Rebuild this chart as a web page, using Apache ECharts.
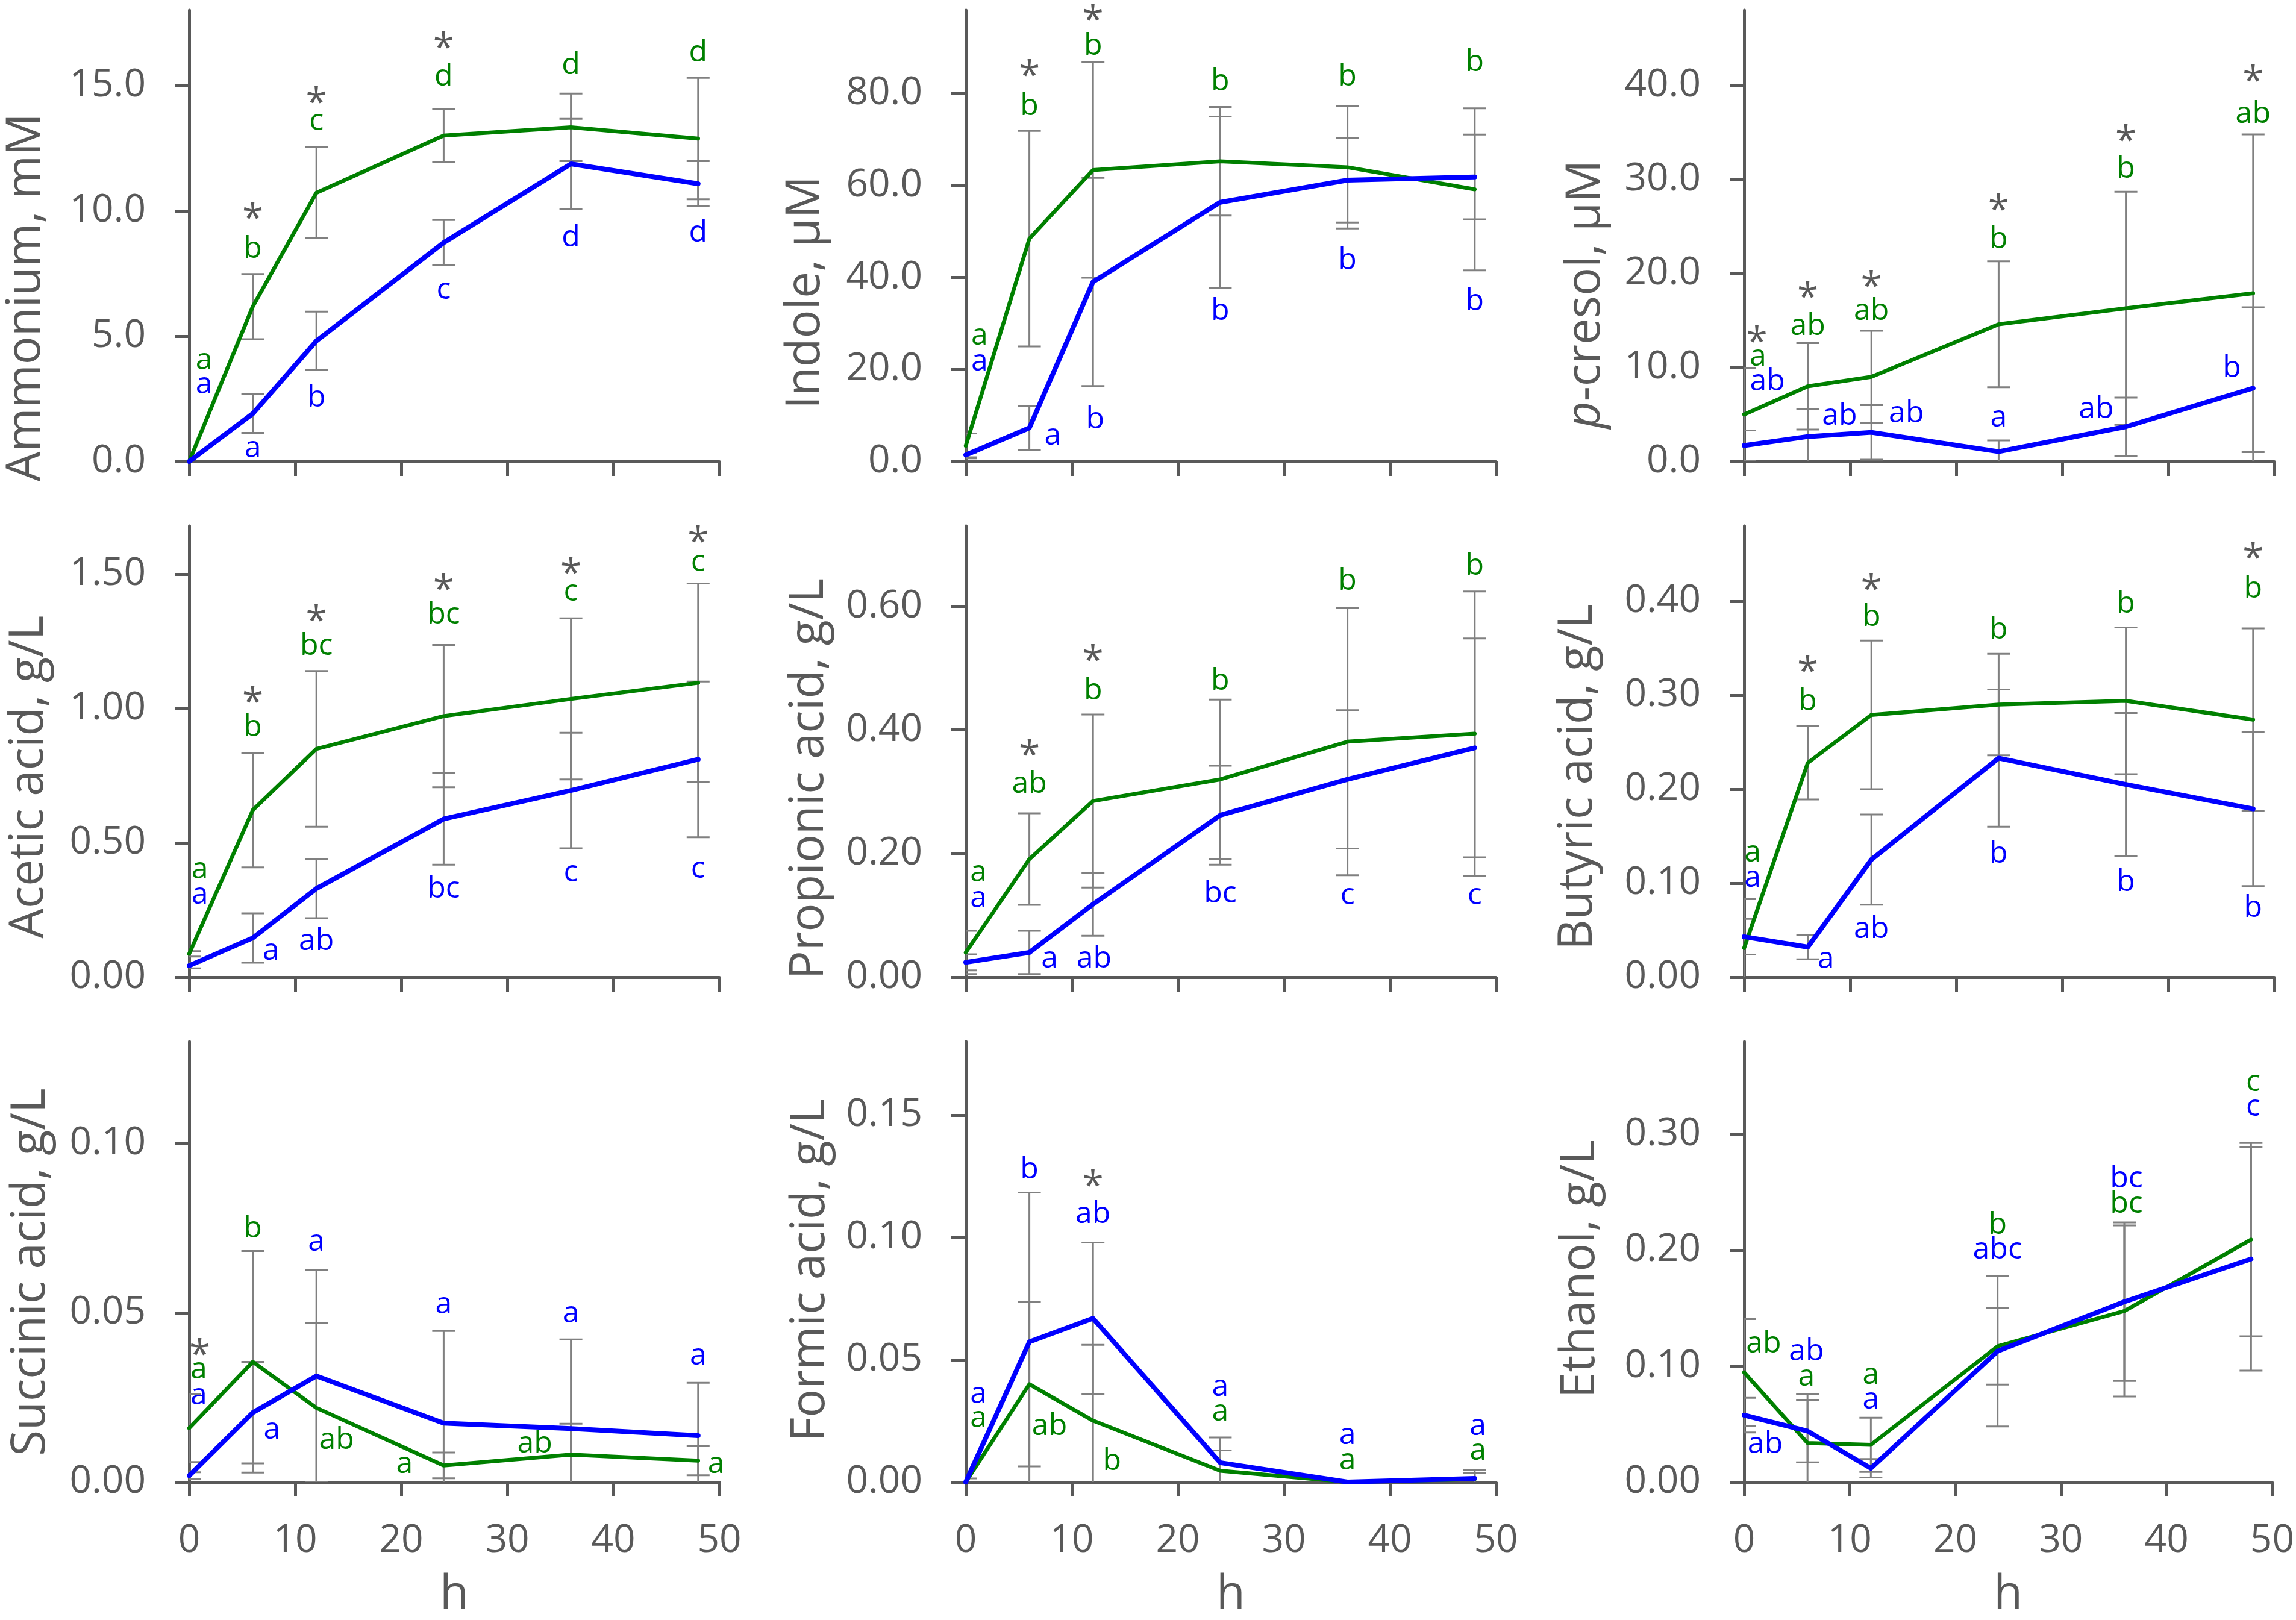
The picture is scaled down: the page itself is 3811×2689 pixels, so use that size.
<!DOCTYPE html>
<html lang="en">
  <head>
    <meta charset="UTF-8" />
    <title>Fermentation time courses</title>
    <script src="https://cdn.jsdelivr.net/npm/echarts@6/dist/echarts.min.js"></script>
    <style>
      html,
      body {
        margin: 0;
        padding: 0;
        background: #ffffff;
      }
      #chart {
        width: 3811px;
        height: 2689px;
      }
    </style>
  </head>
  <body>
    <div id="chart"></div>
    <script type="text/javascript">
      // sampling times, h
      const hours = [0, 6, 12, 24, 36, 48];
      const xTicks = [0, 10, 20, 30, 40, 50];

      // mean and SD per panel: G = green series, B = blue series
      const ammoniumG = [0, 6.18, 10.72, 13.0, 13.33, 12.88];
      const ammoniumGsd = [0, 1.3, 1.81, 1.06, 1.35, 2.42];
      const ammoniumB = [0, 1.91, 4.81, 8.73, 11.87, 11.08];
      const ammoniumBsd = [0, 0.77, 1.17, 0.9, 1.8, 0.9];
      const ammoniumTicks = [0, 5, 10, 15];

      const indoleG = [3.4, 48.4, 63.3, 65.2, 63.9, 59.1];
      const indoleGsd = [2.7, 23.4, 23.4, 11.8, 13.3, 17.6];
      const indoleB = [1.4, 7.3, 39.0, 56.3, 61.1, 61.8];
      const indoleBsd = [0.5, 4.8, 22.6, 18.6, 9.2, 9.2];
      const indoleTicks = [0, 20, 40, 60, 80];

      const cresolG = [5.0, 8.0, 9.0, 14.6, 16.3, 17.9];
      const cresolGsd = [4.9, 4.6, 4.9, 6.7, 12.4, 16.9];
      const cresolB = [1.7, 2.65, 3.1, 1.05, 3.7, 7.8];
      const cresolBsd = [1.6, 2.9, 2.9, 1.2, 3.1, 8.6];
      const cresolTicks = [0, 10, 20, 30, 40];

      const aceticG = [0.087, 0.622, 0.85, 0.972, 1.036, 1.096];
      const aceticGsd = [0.01, 0.213, 0.29, 0.265, 0.3, 0.37];
      const aceticB = [0.043, 0.146, 0.33, 0.589, 0.695, 0.811];
      const aceticBsd = [0.01, 0.092, 0.11, 0.17, 0.215, 0.29];
      const aceticTicks = [0, 0.5, 1.0, 1.5];

      const propionicG = [0.04, 0.191, 0.285, 0.32, 0.381, 0.394];
      const propionicGsd = [0.035, 0.074, 0.14, 0.129, 0.216, 0.23];
      const propionicB = [0.024, 0.04, 0.118, 0.262, 0.32, 0.371];
      const propionicBsd = [0.013, 0.035, 0.051, 0.08, 0.112, 0.177];
      const propionicTicks = [0, 0.2, 0.4, 0.6];

      const butyricG = [0.031, 0.228, 0.279, 0.29, 0.294, 0.274];
      const butyricGsd = [0.052, 0.039, 0.079, 0.054, 0.078, 0.097];
      const butyricB = [0.043, 0.032, 0.125, 0.233, 0.205, 0.179];
      const butyricBsd = [0.019, 0.013, 0.048, 0.073, 0.076, 0.082];
      const butyricTicks = [0, 0.1, 0.2, 0.3, 0.4];

      const succinicG = [0.0159, 0.0355, 0.0219, 0.0049, 0.0081, 0.0063];
      const succinicGsd = [0.01, 0.0327, 0.025, 0.0038, 0.0091, 0.0043];
      const succinicB = [0.0019, 0.0205, 0.0313, 0.0174, 0.0158, 0.0137];
      const succinicBsd = [0.001, 0.015, 0.0314, 0.0272, 0.0263, 0.0156];
      const succinicTicks = [0, 0.05, 0.1];

      const formicG = [0, 0.04, 0.0251, 0.0046, 0, 0.0012];
      const formicGsd = [0.0015, 0.0336, 0.031, 0.0083, 0, 0.0037];
      const formicB = [0, 0.0573, 0.0669, 0.0079, 0, 0.0015];
      const formicBsd = [0, 0.061, 0.031, 0.0103, 0, 0.0021];
      const formicTicks = [0, 0.05, 0.1, 0.15];

      const ethanolG = [0.0946, 0.0337, 0.0321, 0.1171, 0.1476, 0.2092];
      const ethanolGsd = [0.046, 0.042, 0.0234, 0.033, 0.0738, 0.0834];
      const ethanolB = [0.0577, 0.044, 0.0119, 0.1129, 0.1556, 0.1925];
      const ethanolBsd = [0.015, 0.027, 0.008, 0.065, 0.0684, 0.0963];
      const ethanolTicks = [0, 0.1, 0.2, 0.3];

      // significance letters: [h, value where the text sits, text, g|b|s]
      const ammoniumNotes = [
        [1.4, 4.03, "a", "g"], [1.4, 3.05, "a", "b"],
        [6, 8.47, "b", "g"], [6, 9.97, "*", "s"], [6, 0.5, "a", "b"],
        [12, 13.57, "c", "g"], [12, 14.6, "*", "s"], [12, 2.52, "b", "b"],
        [24, 15.33, "d", "g"], [24, 16.77, "*", "s"], [24, 6.84, "c", "b"],
        [36, 15.8, "d", "g"], [36, 8.93, "d", "b"],
        [48, 16.3, "d", "g"], [48, 9.12, "d", "b"],
      ];
      const indoleNotes = [
        [1.3, 27.3, "a", "g"], [1.3, 21.6, "a", "b"],
        [6, 77.1, "b", "g"], [6, 85.3, "*", "s"], [8.2, 5.55, "a", "b"],
        [12, 90.2, "b", "g"], [12, 97.4, "*", "s"], [12.2, 9.1, "b", "b"],
        [24, 82.4, "b", "g"], [24, 32.6, "b", "b"],
        [36, 83.5, "b", "g"], [36, 43.6, "b", "b"],
        [48, 86.7, "b", "g"], [48, 34.7, "b", "b"],
      ];
      const cresolNotes = [
        [1.3, 11.1, "a", "g"], [1.2, 13.5, "*", "s"], [2.2, 8.5, "ab", "b"],
        [6, 14.4, "ab", "g"], [6, 18.2, "*", "s"], [9.0, 4.8, "ab", "b"],
        [12, 16.0, "ab", "g"], [12, 19.4, "*", "s"], [15.3, 5.1, "ab", "b"],
        [24, 23.6, "b", "g"], [24, 27.5, "*", "s"], [24, 4.6, "a", "b"],
        [36, 31.1, "b", "g"], [36, 34.9, "*", "s"], [33.2, 5.5, "ab", "b"],
        [48, 36.9, "ab", "g"], [48, 41.2, "*", "s"], [46, 9.9, "b", "b"],
      ];
      const aceticNotes = [
        [1.0, 0.4, "a", "g"], [1.0, 0.306, "a", "b"],
        [6, 0.929, "b", "g"], [6, 1.051, "*", "s"], [7.7, 0.097, "a", "b"],
        [12, 1.233, "bc", "g"], [12, 1.354, "*", "s"], [12, 0.134, "ab", "b"],
        [24, 1.348, "bc", "g"], [24, 1.47, "*", "s"], [24, 0.328, "bc", "b"],
        [36, 1.433, "c", "g"], [36, 1.53, "*", "s"], [36, 0.389, "c", "b"],
        [48, 1.543, "c", "g"], [48, 1.646, "*", "s"], [48, 0.401, "c", "b"],
      ];
      const propionicNotes = [
        [1.2, 0.169, "a", "g"], [1.2, 0.127, "a", "b"],
        [6, 0.3125, "ab", "g"], [6, 0.371, "*", "s"], [7.9, 0.029, "a", "b"],
        [12, 0.463, "b", "g"], [12, 0.524, "*", "s"], [12.1, 0.029, "ab", "b"],
        [24, 0.479, "b", "g"], [24, 0.135, "bc", "b"],
        [36, 0.641, "b", "g"], [36, 0.132, "c", "b"],
        [48, 0.665, "b", "g"], [48, 0.132, "c", "b"],
      ];
      const butyricNotes = [
        [0.8, 0.132, "a", "g"], [0.8, 0.105, "a", "b"],
        [6, 0.293, "b", "g"], [6, 0.333, "*", "s"], [7.7, 0.019, "a", "b"],
        [12, 0.383, "b", "g"], [12, 0.42, "*", "s"], [12, 0.051, "ab", "b"],
        [24, 0.369, "b", "g"], [24, 0.131, "b", "b"],
        [36, 0.397, "b", "g"], [36, 0.101, "b", "b"],
        [48, 0.413, "b", "g"], [48, 0.453, "*", "s"], [48, 0.073, "b", "b"],
      ];
      const succinicNotes = [
        [0.9, 0.0331, "a", "g"], [1.0, 0.0397, "*", "s"], [0.9, 0.0254, "a", "b"],
        [6, 0.0748, "b", "g"], [7.8, 0.0154, "a", "b"],
        [13.9, 0.0123, "ab", "g"], [12, 0.0709, "a", "b"],
        [20.3, 0.0052, "a", "g"], [24, 0.0523, "a", "b"],
        [32.6, 0.0112, "ab", "g"], [36, 0.0496, "a", "b"],
        [49.7, 0.0052, "a", "g"], [48, 0.0372, "a", "b"],
      ];
      const formicNotes = [
        [1.2, 0.0357, "a", "b"], [1.2, 0.0258, "a", "g"],
        [6, 0.1277, "b", "b"], [7.9, 0.0228, "ab", "g"],
        [12, 0.1094, "ab", "b"], [12, 0.1239, "*", "s"], [13.8, 0.0084, "b", "g"],
        [24, 0.0388, "a", "b"], [24, 0.0286, "a", "g"],
        [36, 0.019, "a", "b"], [36, 0.0088, "a", "g"],
        [48.3, 0.0228, "a", "b"], [48.3, 0.0126, "a", "g"],
      ];
      const ethanolNotes = [
        [1.85, 0.1193, "ab", "g"], [2.0, 0.0321, "ab", "b"],
        [5.9, 0.1123, "ab", "b"], [5.9, 0.0905, "a", "g"],
        [12, 0.0924, "a", "g"], [12, 0.0706, "a", "b"],
        [24, 0.2214, "b", "g"], [24, 0.2005, "abc", "b"],
        [36.2, 0.2615, "bc", "b"], [36.2, 0.24, "bc", "g"],
        [48.2, 0.3449, "c", "g"], [48.2, 0.3234, "c", "b"],
      ];

      const panels = [
        { title: "Ammonium, mM", max: 18, ticks: ammoniumTicks, dec: 1, g: ammoniumG, gsd: ammoniumGsd, b: ammoniumB, bsd: ammoniumBsd, notes: ammoniumNotes },
        { title: "Indole, µM", max: 98, ticks: indoleTicks, dec: 1, g: indoleG, gsd: indoleGsd, b: indoleB, bsd: indoleBsd, notes: indoleNotes },
        { title: "{i|p}-cresol, µM", max: 48, ticks: cresolTicks, dec: 1, g: cresolG, gsd: cresolGsd, b: cresolB, bsd: cresolBsd, notes: cresolNotes },
        { title: "Acetic acid, g/L", max: 1.68, ticks: aceticTicks, dec: 2, g: aceticG, gsd: aceticGsd, b: aceticB, bsd: aceticBsd, notes: aceticNotes },
        { title: "Propionic acid, g/L", max: 0.73, ticks: propionicTicks, dec: 2, g: propionicG, gsd: propionicGsd, b: propionicB, bsd: propionicBsd, notes: propionicNotes },
        { title: "Butyric acid, g/L", max: 0.48, ticks: butyricTicks, dec: 2, g: butyricG, gsd: butyricGsd, b: butyricB, bsd: butyricBsd, notes: butyricNotes },
        { title: "Succinic acid, g/L", max: 0.13, ticks: succinicTicks, dec: 2, g: succinicG, gsd: succinicGsd, b: succinicB, bsd: succinicBsd, notes: succinicNotes },
        { title: "Formic acid, g/L", max: 0.18, ticks: formicTicks, dec: 2, g: formicG, gsd: formicGsd, b: formicB, bsd: formicBsd, notes: formicNotes },
        { title: "Ethanol, g/L", max: 0.38, ticks: ethanolTicks, dec: 2, g: ethanolG, gsd: ethanolGsd, b: ethanolB, bsd: ethanolBsd, notes: ethanolNotes },
      ];

      const font = "'Open Sans', 'Noto Sans', sans-serif";
      const axisGrey = "#595959";
      const barGrey = "#808080";
      const green = "#008000";
      const blue = "#0000ff";
      const noteColor = { g: green, b: blue, s: axisGrey };

      // plot area layout (px)
      const colLeft = [314, 1603, 2895];
      const rowTop = [17, 873, 1729];
      const plotW = 880;
      const plotH = 749;
      // y title distance from axis and shift below middle
      const titleDist = [270, 265, 262, 265, 259, 275, 262, 257, 271];
      const titleShift = [102, 94, 97, 42, 45, 42, 8, 5, 3];

      const dom = document.getElementById("chart");
      const myChart = echarts.init(dom, null, { renderer: "canvas" });

      const errorBars = (i, mean, sd) => ({
        type: "custom",
        xAxisIndex: i,
        yAxisIndex: i,
        z: 2,
        clip: true,
        silent: true,
        data: hours.map((h, k) => [h, mean[k] - sd[k], mean[k] + sd[k], sd[k]]),
        renderItem: (params, api) => {
          if (api.value(3) <= 0) return null;
          const x = api.value(0);
          const lo = api.coord([x, api.value(1)]);
          const hi = api.coord([x, api.value(2)]);
          const cap = 19;
          const st = { stroke: barGrey, lineWidth: 3 };
          return {
            type: "group",
            children: [
              { type: "line", shape: { x1: lo[0], y1: lo[1], x2: hi[0], y2: hi[1] }, style: st },
              { type: "line", shape: { x1: hi[0] - cap, y1: hi[1], x2: hi[0] + cap, y2: hi[1] }, style: st },
              { type: "line", shape: { x1: lo[0] - cap, y1: lo[1], x2: lo[0] + cap, y2: lo[1] }, style: st },
            ],
          };
        },
      });

      const meanLine = (i, mean, color, width, z) => ({
        type: "line",
        xAxisIndex: i,
        yAxisIndex: i,
        z: z,
        clip: false,
        silent: true,
        symbol: "none",
        animation: false,
        lineStyle: { color: color, width: width, join: "round", cap: "round" },
        data: hours.map((h, k) => [h, mean[k]]),
      });

      const noteSeries = (i, notes) => ({
        type: "custom",
        xAxisIndex: i,
        yAxisIndex: i,
        z: 10,
        clip: false,
        silent: true,
        data: notes.map((n) => [n[0], n[1]]),
        renderItem: (params, api) => {
          const n = notes[params.dataIndex];
          const p = api.coord([api.value(0), api.value(1)]);
          const star = n[2] === "*";
          return {
            type: "text",
            x: p[0],
            y: p[1] + (star ? 15 : 0),
            style: {
              text: n[2],
              fill: noteColor[n[3]],
              fontSize: star ? 64 : 50,
              fontFamily: font,
              align: "center",
              verticalAlign: "middle",
            },
          };
        },
      });

      const grid = [];
      const xAxis = [];
      const yAxis = [];
      const series = [];
      const graphic = [];

      panels.forEach((p, i) => {
        const col = i % 3;
        const row = Math.floor(i / 3);
        const bottomRow = row === 2;
        grid.push({ left: colLeft[col], top: rowTop[row], width: plotW, height: plotH });
        xAxis.push({
          type: "value",
          gridIndex: i,
          min: 0,
          max: 50,
          interval: 10,
          name: bottomRow ? "h" : "",
          nameLocation: "middle",
          nameGap: 150,
          nameTextStyle: { fontSize: 78, fontFamily: font, color: axisGrey },
          axisLine: { show: true, onZero: false, lineStyle: { color: axisGrey, width: 5 } },
          axisTick: { show: true, length: 24, lineStyle: { color: axisGrey, width: 5 } },
          axisLabel: {
            show: bottomRow,
            customValues: xTicks,
            margin: 66,
            fontSize: 64,
            fontFamily: font,
            color: axisGrey,
          },
          splitLine: { show: false },
        });
        yAxis.push({
          type: "value",
          gridIndex: i,
          min: 0,
          max: p.max,
          axisLine: { show: true, onZero: false, lineStyle: { color: axisGrey, width: 5 } },
          axisTick: { show: true, length: 24, customValues: p.ticks, lineStyle: { color: axisGrey, width: 5 } },
          axisLabel: {
            customValues: p.ticks,
            formatter: (v) => Number(v).toFixed(p.dec),
            margin: 72,
            fontSize: 64,
            fontFamily: font,
            color: axisGrey,
          },
          splitLine: { show: false },
        });
        series.push(errorBars(i, p.g, p.gsd));
        series.push(errorBars(i, p.b, p.bsd));
        series.push(meanLine(i, p.g, green, 6.5, 4));
        series.push(meanLine(i, p.b, blue, 8, 5));
        series.push(noteSeries(i, p.notes));
        graphic.push({
          type: "text",
          x: colLeft[col] - titleDist[i],
          y: rowTop[row] + plotH / 2 + titleShift[i],
          rotation: Math.PI / 2,
          style: {
            text: p.title,
            fontSize: 78,
            fontFamily: font,
            fill: axisGrey,
            align: "center",
            verticalAlign: "middle",
            rich: {
              i: { fontSize: 78, fontFamily: font, fontStyle: "italic", fill: axisGrey },
            },
          },
        });
      });

      const options = {
        backgroundColor: "#ffffff",
        animation: false,
        grid: grid,
        xAxis: xAxis,
        yAxis: yAxis,
        series: series,
        graphic: graphic,
      };
      myChart.setOption(options);
    </script>
  </body>
</html>
